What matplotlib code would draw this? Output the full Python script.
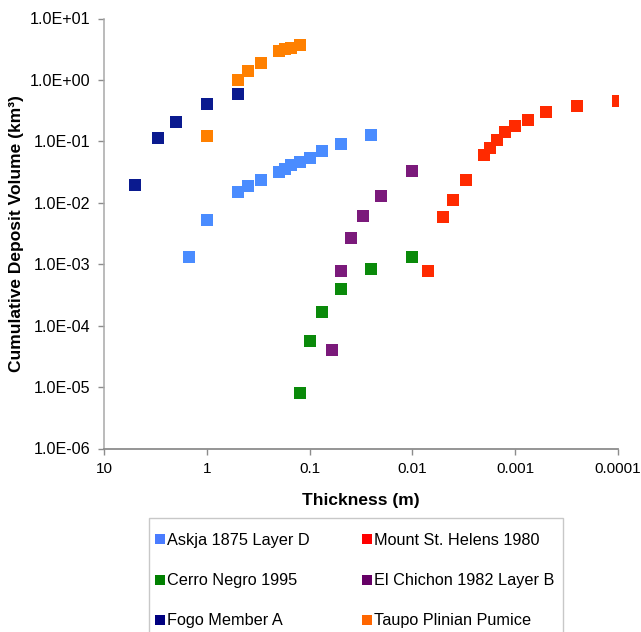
import matplotlib.pyplot as plt
from matplotlib.lines import Line2D
from matplotlib.patches import Rectangle
from matplotlib.ticker import FixedLocator, FuncFormatter, NullLocator

# Data (thickness in m, cumulative volume in km3)
askja_t = [1.5, 1.0, 0.5, 0.4, 0.3, 0.2, 0.175, 0.15, 0.125, 0.1, 0.075, 0.05, 0.025]
askja_v = [0.00133, 0.0053, 0.0152, 0.0188, 0.0236, 0.0314, 0.0356, 0.041, 0.0457,
           0.0545, 0.069, 0.091, 0.129]

cerro_t = [0.125, 0.1, 0.075, 0.05, 0.025, 0.01]
cerro_v = [7.9e-6, 5.7e-5, 0.000169, 0.00039, 0.000826, 0.00133]

fogo_t = [5.0, 3.0, 2.0, 1.0, 0.5]
fogo_v = [0.0196, 0.114, 0.208, 0.40, 0.594]

helens_t = [0.007, 0.005, 0.004, 0.003, 0.002, 0.00175, 0.0015, 0.00125, 0.001,
            0.00075, 0.0005, 0.00025, 0.0001]
helens_v = [0.000775, 0.00585, 0.0113, 0.0231, 0.0597, 0.0793, 0.1057, 0.141, 0.181,
            0.226, 0.298, 0.382, 0.456]

chichon_t = [0.06, 0.05, 0.04, 0.03, 0.02, 0.01]
chichon_v = [3.96e-5, 0.00079, 0.00271, 0.0062, 0.0131, 0.0331]

taupo_t = [1.0, 0.5, 0.4, 0.3, 0.2, 0.175, 0.15, 0.125]
taupo_v = [0.124, 1.0, 1.39, 1.9, 2.94, 3.16, 3.37, 3.73]

# name, x, y, marker colour, legend swatch colour
series = [
    ('Askja 1875 Layer D', askja_t, askja_v, '#4a8cff', '#4a7cff'),
    ('Cerro Negro 1995', cerro_t, cerro_v, '#0a8a0a', '#008000'),
    ('Fogo Member A', fogo_t, fogo_v, '#0a1a8f', '#000080'),
    ('Mount St. Helens 1980', helens_t, helens_v, '#ff2a00', '#ff0000'),
    ('El Chichon 1982 Layer B', chichon_t, chichon_v, '#7b1a7b', '#660066'),
    ('Taupo Plinian Pumice', taupo_t, taupo_v, '#ff8000', '#ff6600'),
]

plt.rcParams['font.family'] = ['Liberation Sans', 'DejaVu Sans']

fig = plt.figure(figsize=(6.41, 6.32), dpi=100)
ax = fig.add_axes([104 / 641, 1 - 448.5 / 632, 514 / 641, 430 / 632])

handles = []
for name, t, v, c, lc in series:
    ax.plot(t, v, linestyle='none', marker='s', markersize=8.3, color=c,
            markeredgewidth=0)
    handles.append(Line2D([], [], linestyle='none', marker='s', markersize=6.5,
                          color=lc, markeredgewidth=0, label=name))

ax.set_xscale('log')
ax.set_yscale('log')
ax.set_xlim(10, 0.0001)
ax.set_ylim(1e-6, 10)

ax.xaxis.set_major_locator(FixedLocator([10, 1, 0.1, 0.01, 0.001, 0.0001]))
ax.xaxis.set_major_formatter(FuncFormatter(lambda v, p: f'{v:g}' if v >= 0.001 else '0.0001'))
ax.xaxis.set_minor_locator(NullLocator())
ax.yaxis.set_major_locator(FixedLocator([10.0 ** k for k in range(-6, 2)]))
ax.yaxis.set_major_formatter(FuncFormatter(lambda v, p: f'{v:.1E}'))
ax.yaxis.set_minor_locator(NullLocator())

for s in ['top', 'right']:
    ax.spines[s].set_visible(False)
ax.spines['left'].set_color('#a8a8a8')
ax.spines['bottom'].set_color('#8c8c8c')
ax.spines['left'].set_linewidth(1.1)
ax.spines['bottom'].set_linewidth(1.3)
ax.tick_params(axis='both', direction='out', length=4, width=1, colors='#8c8c8c',
               labelcolor='black')
ax.tick_params(axis='x', pad=6, labelsize=11)
ax.tick_params(axis='y', pad=6, labelsize=11.6)

ax.set_xlabel('Thickness (m)', fontsize=12.5, fontweight='bold', labelpad=12)
ax.set_ylabel('Cumulative Deposit Volume (km³)', fontsize=12.5, fontweight='bold',
              labelpad=4)

# legend frame (runs off the bottom of the figure, as in the original)
fig.patches.append(Rectangle((148.7 / 641, -0.05), (563 - 148.7) / 641,
                             1 - 517.7 / 632 + 0.05, transform=fig.transFigure,
                             facecolor='white', edgecolor='#c8c8c8', linewidth=1.0))

fig.legend(handles=handles, loc='upper left',
           bbox_to_anchor=(155.7 / 641, 1 - 533 / 632),
           ncol=2, fontsize=11.7, frameon=False,
           handlelength=0.55, handletextpad=0.17,
           columnspacing=3.24, labelspacing=1.55, borderpad=0,
           borderaxespad=0)

fig.savefig('out.png', dpi=100)
